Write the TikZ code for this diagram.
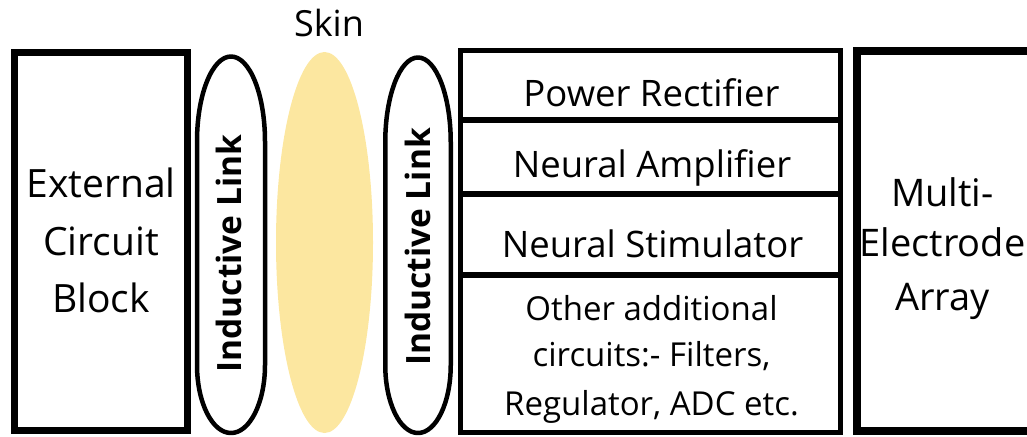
\documentclass[tikz,border=0pt]{standalone}
\usepackage{fontspec}
\setmainfont{Open Sans}
\usetikzlibrary{shapes.geometric}
\definecolor{skin}{HTML}{FCE7A0}
% #1 cx, #2 top, #3 bottom, #4 half width, #5 top cap height, #6 bottom cap height
\newcommand\linkshape[6]{%
  \draw[coil] (#1,#2)
    .. controls ({#1+0.5523*#4},#2) and ({#1+#4},{#2+#5-0.5523*#5}) .. ({#1+#4},{#2+#5})
    -- ({#1+#4},{#3-#6})
    .. controls ({#1+#4},{#3-#6+0.5523*#6}) and ({#1+0.5523*#4},#3) .. (#1,#3)
    .. controls ({#1-0.5523*#4},#3) and ({#1-#4},{#3-#6+0.5523*#6}) .. ({#1-#4},{#3-#6})
    -- ({#1-#4},{#2+#5})
    .. controls ({#1-#4},{#2+#5-0.5523*#5}) and ({#1-0.5523*#4},#2) .. (#1,#2) -- cycle;}
\begin{document}
\begin{tikzpicture}[x=1pt,y=-1pt,
  box/.style={draw, inner sep=0pt, outer sep=0pt},
  coil/.style={draw, line width=4.5pt, line join=round},
  big/.style={font=\fontsize{38}{38}\selectfont, anchor=base, inner sep=0pt},
  row/.style={font=\fontsize{36.5}{36.5}\selectfont, anchor=base, inner sep=0pt},
  small/.style={font=\fontsize{33}{33}\selectfont, anchor=base, inner sep=0pt},
  linktxt/.style={font=\fontsize{33.5}{33.5}\selectfont\bfseries, rotate=90, inner sep=0pt}]
\useasboundingbox (0,0) rectangle (1027,436);
\clip (0,0) rectangle (1027,436);
% external circuit block
\node[box, line width=6.5pt, minimum width=173, minimum height=378] (ext) at (101,241.5) {};
\node[big, font=\fontsize{39}{39}\selectfont] (ext1) at (101,197) {External};
\node[big, font=\fontsize{39}{39}\selectfont] (ext2) at (101,255) {Circuit};
\node[big, font=\fontsize{39}{39}\selectfont] (ext3) at (101,312) {Block};
% skin
\node[ellipse, fill=skin, inner sep=0pt, minimum width=97, minimum height=381] (skin) at (324.5,242.5) {};
\node[font=\fontsize{36}{36}\selectfont, anchor=base, inner sep=0pt] (skinlbl) at (329,37) {Skin};
% inductive links
\coordinate (l1) at (231,245);
\linkshape{231}{56.5}{433}{34}{85}{68}
\node[linktxt] (l1t) at (229,253.5) {Inductive Link};
\coordinate (l2) at (418,245);
\linkshape{418}{57.5}{433}{32.75}{85}{68}
\node[linktxt] (l2t) at (417.5,247) {Inductive Link};
% implant stack
\node[box, line width=5.5pt, minimum width=380, minimum height=69.5] (r1) at (650.5,85.25) {};
\node[box, line width=5.5pt, minimum width=380, minimum height=74] (r2) at (650.5,157) {};
\node[box, line width=5.5pt, minimum width=380, minimum height=81] (r3) at (650.5,234.5) {};
\node[box, line width=5.5pt, minimum width=380, minimum height=157.5] (r4) at (650.5,353.75) {};
\node[row] (r1t) at (651.5,106.7) {Power Rectifier};
\node[row] (r2t) at (652,177) {Neural Amplifier};
\node[row] (r3t) at (652.5,257) {Neural Stimulator};
\node[small] (r4a) at (651.5,320) {Other additional};
\node[small] (r4b) at (651.5,366.7) {circuits:- Filters,};
\node[small] (r4c) at (651.5,415) {Regulator, ADC etc.};
% multi-electrode array
\node[box, line width=8pt, minimum width=190, minimum height=380, anchor=north west] (mea) at (857,51) {};
\node[big] (mea1) at (942.5,206.7) {Multi-};
\node[big] (mea2) at (942.5,256.7) {Electrode};
\node[big] (mea3) at (942.5,310) {Array};
\end{tikzpicture}
\end{document}
